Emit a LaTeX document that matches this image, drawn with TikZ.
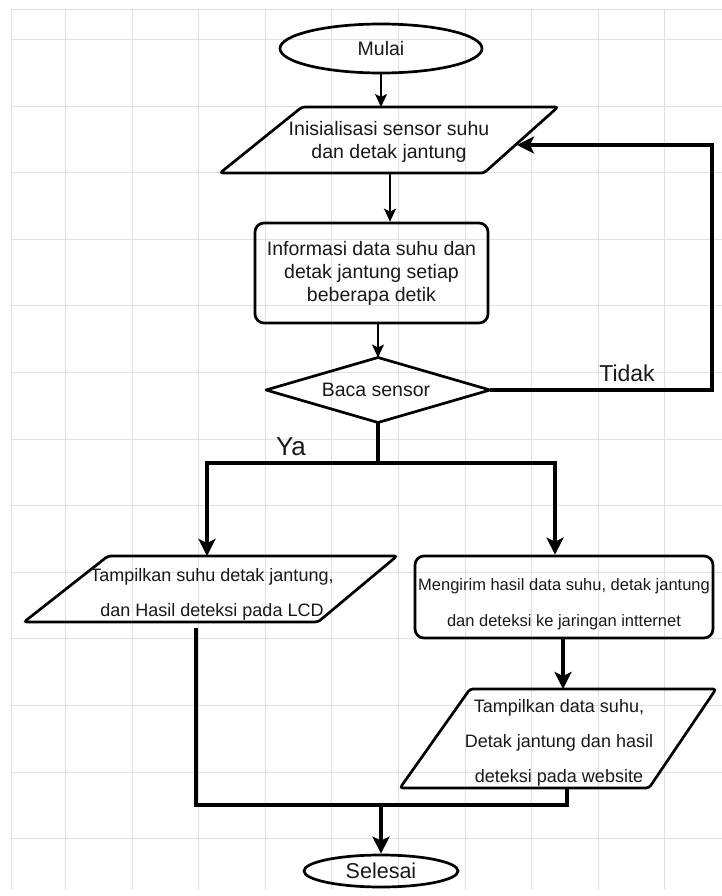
\documentclass[tikz,border=0pt]{standalone}
\usepackage{fontspec}
\setmainfont{Liberation Sans}
\usetikzlibrary{arrows.meta,shapes.geometric}
\begin{document}
\begin{tikzpicture}[x=1pt,y=-1pt,
  shapeline/.style={draw=black,line width=2.7pt},
  thinarrow/.style={line width=1.8pt,-{Stealth[length=13pt,width=12pt,inset=3pt]}},
  thickarrow/.style={line width=3.1pt,-{Stealth[length=17pt,width=17pt,inset=4pt]}},
  thickline/.style={line width=3.1pt},
  txt/.style={align=center,text=black!90,inner sep=0pt},
  mainfont/.style={font=\fontsize{19.5}{23}\selectfont},
  gridline/.style={draw=black!12,line width=0.9pt}]

\useasboundingbox (0,0) rectangle (722,896);
\fill[white] (0,0) rectangle (722,896);
\foreach \i in {0,...,9} \draw[gridline] ({65.5+66.6*\i},9) -- ({65.5+66.6*\i},889);
\foreach \j in {0,...,12} \draw[gridline] (11,{39.5+66.6*\j}) -- (722,{39.5+66.6*\j});
\draw[gridline] (11,9) -- (722,9);
\draw[gridline] (11,9) -- (11,889);

% Mulai
\node[shapeline,ellipse,minimum width=202pt,minimum height=49pt,txt,mainfont] (mulai) at (381,48.5) {Mulai};

% Inisialisasi
\draw[shapeline,rounded corners=3pt] (220,173) -- (302,107) -- (558,107) -- (484,173) -- cycle;
\node[txt,mainfont] (init) at (389,141.5) {Inisialisasi sensor suhu\\dan detak jantung};
\coordinate (initIn) at (381,107);
\coordinate (initOut) at (390,173);
\coordinate (initRight) at (517,145);

% Informasi
\node[shapeline,rectangle,rounded corners=9pt,minimum width=233pt,minimum height=100pt,txt,mainfont] (info) at (371.5,273) {Informasi data suhu dan\\detak jantung setiap\\beberapa detik};

% Baca sensor
\coordinate (bacaN) at (378,357.5);
\coordinate (bacaS) at (378,422.5);
\coordinate (bacaE) at (490,390);
\coordinate (bacaW) at (266,390);
\draw[shapeline,line join=round] (bacaN) -- (bacaE) -- (bacaS) -- (bacaW) -- cycle;
\node[txt,mainfont] (baca) at (376,390) {Baca sensor};

% LCD
\draw[shapeline,rounded corners=3pt] (24,622) -- (108,556) -- (397,556) -- (318,622) -- cycle;
\node[txt,font=\fontsize{18}{35}\selectfont] (lcd) at (212,594.5) {Tampilkan suhu detak jantung,\\dan Hasil deteksi pada LCD};
\coordinate (lcdIn) at (207,556);
\coordinate (lcdOut) at (196,628);

% Mengirim
\node[shapeline,rectangle,rounded corners=9pt,minimum width=298pt,minimum height=82pt,inner sep=0pt] (kirim) at (564,597) {};
\node[txt,font=\fontsize{16.5}{36}\selectfont] (kirimtxt) at (564,604) {Mengirim hasil data suhu, detak jantung\\dan deteksi ke jaringan intternet};

% Website
\draw[shapeline,rounded corners=3pt] (400,788) -- (470,689) -- (716,689) -- (649,788) -- cycle;
\node[txt,font=\fontsize{18}{35}\selectfont] (web) at (559,743) {Tampilkan data suhu,\\Detak jantung dan hasil\\deteksi pada website};
\coordinate (webIn) at (563,689);
\coordinate (webOut) at (567,788);

% Selesai
\node[shapeline,ellipse,minimum width=154pt,minimum height=32pt,txt,font=\fontsize{21.5}{25}\selectfont] (selesai) at (381,871) {Selesai};

% connectors
\draw[thinarrow] (mulai) -- (initIn);
\draw[thinarrow] (initOut) -- (initOut |- info.north);
\draw[thinarrow] (bacaN |- info.south) -- (bacaN);

\coordinate (loopA) at (712,390);
\coordinate (loopB) at (712,145);
\draw[thickarrow] (bacaE) -- (loopA) -- (loopB) -- (initRight);
\node[txt,font=\fontsize{23}{27}\selectfont] (tidak) at (627,373) {Tidak};

\coordinate (split) at (378,463);
\coordinate (yaL) at (207,463);
\coordinate (yaR) at (555,463);
\draw[thickline] (bacaS) -- (split);
\draw[thickarrow] (split) -- (yaL) -- (lcdIn);
\draw[thickarrow] (split) -- (yaR) -- (yaR |- kirim.north);
\node[txt,font=\fontsize{26}{30}\selectfont] (ya) at (291,447) {Ya};

\draw[thickarrow] (webIn |- kirim.south) -- (webIn);

\coordinate (mergeL) at (196,805);
\coordinate (mergeR) at (567,805);
\coordinate (mergeC) at (381,805);
\draw[thickline] (lcdOut) -- (mergeL) -- (mergeR) -- (webOut);
\draw[thickarrow] (mergeC) -- (selesai);
\end{tikzpicture}
\end{document}
